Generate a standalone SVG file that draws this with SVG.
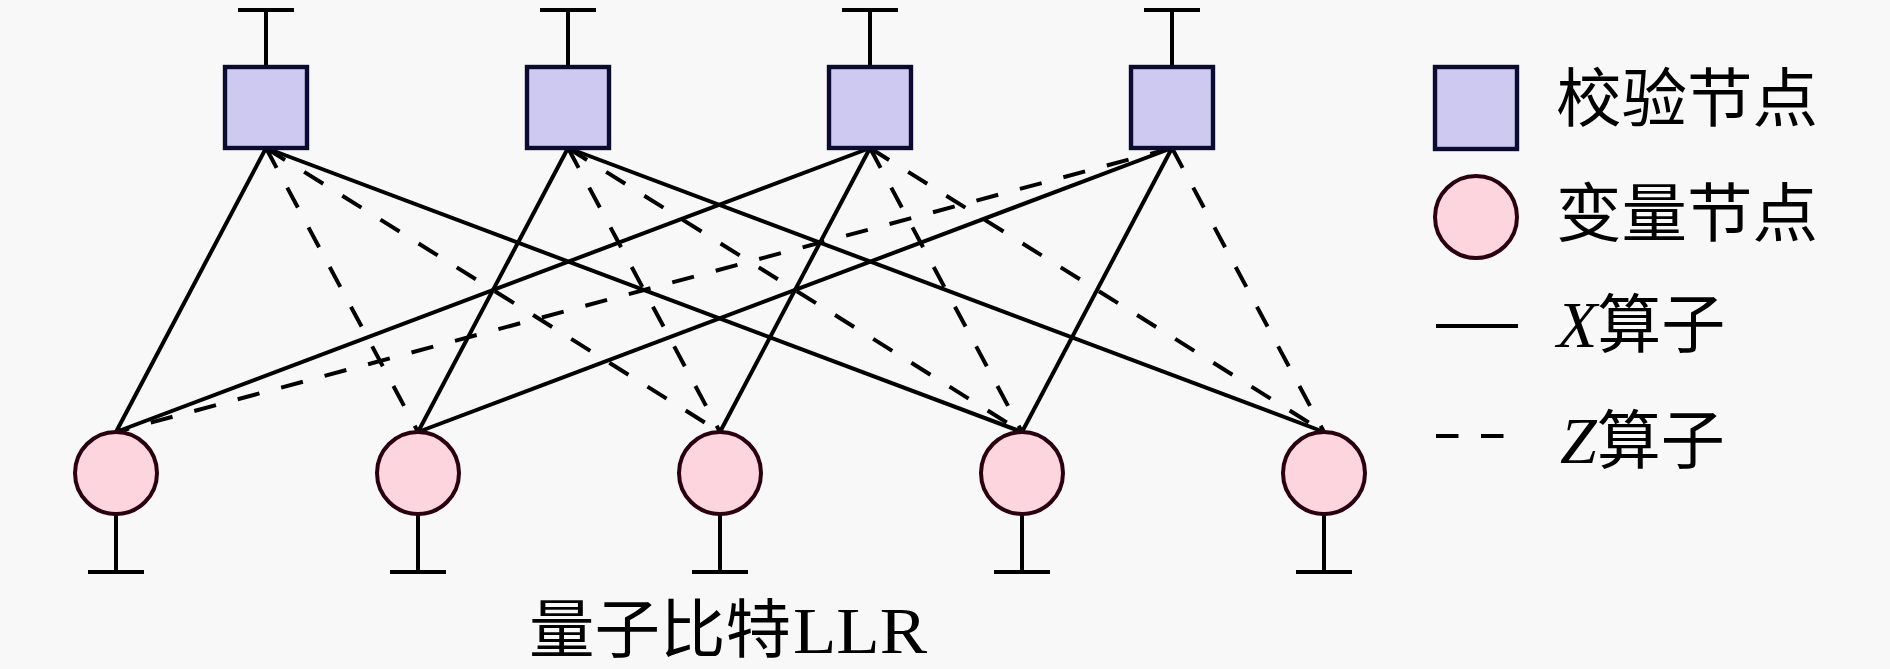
<svg xmlns="http://www.w3.org/2000/svg" width="1890" height="669" viewBox="0 0 1890 669">
<style>
.e{stroke:#000;stroke-width:4;fill:none}
.d{stroke-dasharray:22.5 22.5}
.t{stroke:#000;stroke-width:4;fill:none}
.chk{fill:#cdc9f1;stroke:#0b0a30;stroke-width:4.4}
.var{fill:#fdd5df;stroke:#2a0010;stroke-width:4}
.cjk{font-family:"Noto Sans CJK SC","Noto Sans CJK JP",sans-serif;font-size:64px;fill:#000}
.it{font-family:"Liberation Serif",serif;font-style:italic;font-size:66px;fill:#000}
.rm{font-family:"Liberation Serif",serif;font-size:66px;fill:#000}
</style>
<rect width="1890" height="669" fill="#f8f8f8"/>
<g id="connectors">
<line class="e" x1="266" y1="148" x2="116" y2="432"/>
<line class="e d" x1="266" y1="148" x2="418" y2="432"/>
<line class="e d" x1="266" y1="148" x2="720" y2="432"/>
<line class="e" x1="266" y1="148" x2="1022" y2="432"/>
<line class="e" x1="568" y1="148" x2="418" y2="432"/>
<line class="e d" x1="568" y1="148" x2="720" y2="432"/>
<line class="e d" x1="568" y1="148" x2="1022" y2="432"/>
<line class="e" x1="568" y1="148" x2="1324" y2="432"/>
<line class="e" x1="870" y1="148" x2="116" y2="432"/>
<line class="e" x1="870" y1="148" x2="720" y2="432"/>
<line class="e d" x1="870" y1="148" x2="1022" y2="432"/>
<line class="e d" x1="870" y1="148" x2="1324" y2="432"/>
<line class="e d" x1="1172" y1="148" x2="116" y2="432"/>
<line class="e" x1="1172" y1="148" x2="418" y2="432"/>
<line class="e" x1="1172" y1="148" x2="1022" y2="432"/>
<line class="e d" x1="1172" y1="148" x2="1324" y2="432"/>
</g>
<g id="c1"><path class="t" d="M266 67V10M238 10H294"/><rect class="chk" x="225" y="67" width="82" height="81"/></g>
<g id="c2"><path class="t" d="M568 67V10M540 10H596"/><rect class="chk" x="527" y="67" width="82" height="81"/></g>
<g id="c3"><path class="t" d="M870 67V10M842 10H898"/><rect class="chk" x="829" y="67" width="82" height="81"/></g>
<g id="c4"><path class="t" d="M1172 67V10M1144 10H1200"/><rect class="chk" x="1131" y="67" width="82" height="81"/></g>
<g id="v1"><path class="t" d="M116 514V572M88 572H144"/><circle class="var" cx="116" cy="473" r="41"/></g>
<g id="v2"><path class="t" d="M418 514V572M390 572H446"/><circle class="var" cx="418" cy="473" r="41"/></g>
<g id="v3"><path class="t" d="M720 514V572M692 572H748"/><circle class="var" cx="720" cy="473" r="41"/></g>
<g id="v4"><path class="t" d="M1022 514V572M994 572H1050"/><circle class="var" cx="1022" cy="473" r="41"/></g>
<g id="v5"><path class="t" d="M1324 514V572M1296 572H1352"/><circle class="var" cx="1324" cy="473" r="41"/></g>
<g id="legend">
<rect class="chk" x="1435" y="67" width="82" height="82"/>
<text class="cjk" x="1556" y="121" textLength="262" lengthAdjust="spacingAndGlyphs">校验节点</text>
<circle class="var" cx="1476" cy="217" r="41"/>
<text class="cjk" x="1556" y="236" textLength="262" lengthAdjust="spacingAndGlyphs">变量节点</text>
<line class="e" x1="1436" y1="326" x2="1518" y2="326"/>
<text x="1557" y="347"><tspan class="it">X</tspan><tspan class="cjk">算子</tspan></text>
<line class="e d" x1="1436" y1="436" x2="1518" y2="436"/>
<text x="1560" y="463"><tspan class="it">Z</tspan><tspan class="cjk">算子</tspan></text>
</g>
<g id="label">
<text class="cjk" x="529" y="652" textLength="262" lengthAdjust="spacingAndGlyphs">量子比特</text>
<text class="rm" x="793" y="653" textLength="134" lengthAdjust="spacingAndGlyphs">LLR</text>
</g>
</svg>
